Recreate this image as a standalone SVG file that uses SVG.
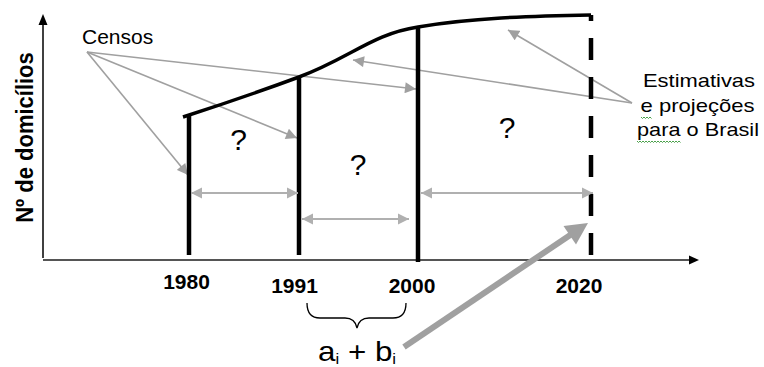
<svg xmlns="http://www.w3.org/2000/svg" width="764" height="367" viewBox="0 0 764 367">
<style>
text{font-family:"Liberation Sans",Arial,sans-serif;fill:#000}
.yr{font-size:21px;font-weight:bold;text-anchor:middle}
.q{font-size:30px;text-anchor:middle}
.lbl{font-size:19px;text-anchor:middle}
.thin{stroke:#a0a0a0;stroke-width:1.6;fill:none}
.harrow{stroke:#b0b0b0;stroke-width:2.2;fill:none}
.bar{stroke:#000;stroke-width:4.5;fill:none}
.squig{stroke:#4aa04a;stroke-width:1;fill:none}
</style>
<defs>
<marker id="ah" viewBox="0 0 10 10" refX="10" refY="5" markerUnits="userSpaceOnUse" markerWidth="12" markerHeight="11" orient="auto-start-reverse">
<path d="M0,0 L10,5 L0,10 z" fill="#a0a0a0"/>
</marker>
<marker id="ahl" viewBox="0 0 10 10" refX="10" refY="5" markerUnits="userSpaceOnUse" markerWidth="11" markerHeight="12" orient="auto-start-reverse">
<path d="M0,0 L10,5 L0,10 z" fill="#b0b0b0"/>
</marker>
</defs>
<rect width="764" height="367" fill="#fff"/>

<g id="axes">
<line x1="43" y1="258" x2="43" y2="24" stroke="#000" stroke-width="1.5"/>
<path d="M43,14 L47.5,25 L38.5,25 z" fill="#000"/>
<line x1="43" y1="260" x2="690" y2="260" stroke="#555" stroke-width="2"/>
<path d="M699,260 L689,255.5 L689,264.5 z" fill="#000"/>
</g>

<g id="y-label">
<text transform="translate(33,137.5) rotate(-90) scale(1,1.12)" x="0" y="0" style="font-size:22px;font-weight:bold;text-anchor:middle">Nº de domicílios</text>
</g>

<g id="connectors">
<line class="thin" x1="87" y1="52" x2="188" y2="175" marker-end="url(#ah)"/>
<line class="thin" x1="87" y1="52" x2="297" y2="138" marker-end="url(#ah)"/>
<line class="thin" x1="87" y1="52" x2="416" y2="89" marker-end="url(#ah)"/>
<line class="thin" x1="632" y1="103" x2="508" y2="30" marker-end="url(#ah)"/>
<line class="thin" x1="632" y1="103" x2="353" y2="60" marker-end="url(#ah)"/>
</g>

<g id="curve">
<path d="M183,117 Q245,97 299,77 C350,58 372,34 418,27 C470,18 530,16 591,15" fill="none" stroke="#000" stroke-width="3.5"/>
</g>

<g id="year-1980">
<line class="bar" x1="189" y1="116" x2="189" y2="255"/>
<text class="yr" x="186.5" y="289">1980</text>
</g>
<g id="year-1991">
<line class="bar" x1="299" y1="77" x2="299" y2="255"/>
<text class="yr" x="294.5" y="293">1991</text>
</g>
<g id="year-2000">
<line class="bar" x1="418" y1="28" x2="418" y2="262"/>
<text class="yr" x="412" y="293">2000</text>
</g>
<g id="year-2020">
<line class="bar" x1="591" y1="15" x2="591" y2="256" stroke-dasharray="22 17" stroke-dashoffset="16"/>
<text class="yr" x="579" y="293">2020</text>
</g>

<g id="intervals">
<line class="harrow" x1="191" y1="193" x2="298" y2="193" marker-start="url(#ahl)" marker-end="url(#ahl)"/>
<line class="harrow" x1="302" y1="219" x2="409" y2="219" marker-start="url(#ahl)" marker-end="url(#ahl)"/>
<line class="harrow" x1="421" y1="193" x2="593" y2="193" marker-start="url(#ahl)" marker-end="url(#ahl)"/>
</g>

<g id="q1"><text class="q" x="238.5" y="150">?</text></g>
<g id="q2"><text class="q" x="358" y="175">?</text></g>
<g id="q3"><text class="q" x="507" y="138">?</text></g>

<g id="censos">
<text x="82" y="44" style="font-size:21px">Censos</text>
</g>

<g id="estimativas">
<text class="lbl" x="699" y="87" textLength="112" lengthAdjust="spacingAndGlyphs">Estimativas</text>
<text class="lbl" x="697.5" y="112" textLength="114" lengthAdjust="spacingAndGlyphs">e projeções</text>
<text class="lbl" x="698" y="136" textLength="122" lengthAdjust="spacingAndGlyphs">para o Brasil</text>
<path class="squig" d="M641,117 l1.5,1.5 l1.5,-1.5 l1.5,1.5 l1.5,-1.5 l1.5,1.5 l1.5,-1.5 l1.5,1.5"/>
<path class="squig" d="M637,141 l1.5,1.5 l1.5,-1.5 l1.5,1.5 l1.5,-1.5 l1.5,1.5 l1.5,-1.5 l1.5,1.5 l1.5,-1.5 l1.5,1.5 l1.5,-1.5 l1.5,1.5 l1.5,-1.5 l1.5,1.5 l1.5,-1.5 l1.5,1.5 l1.5,-1.5 l1.5,1.5 l1.5,-1.5 l1.5,1.5 l1.5,-1.5 l1.5,1.5 l1.5,-1.5 l1.5,1.5 l1.5,-1.5 l1.5,1.5 l1.5,-1.5 l1.5,1.5 l1.5,-1.5 l1.5,1.5"/>
</g>

<g id="brace">
<path d="M307,303 Q307,318 320,318 L345,318 Q355,318 357,328 Q359,318 369,318 L393,318 Q406,318 406,303" fill="none" stroke="#000" stroke-width="1.3"/>
</g>

<g id="ai-bi">
<text transform="translate(318,361) scale(1.12,1)" x="0" y="0" style="font-size:28px">a<tspan style="font-size:15px" dy="3">i</tspan><tspan dy="-3"> + b</tspan><tspan style="font-size:15px" dy="3">i</tspan></text>
</g>

<g id="big-arrow">
<line x1="404" y1="347" x2="571" y2="234.5" stroke="#a0a0a0" stroke-width="6"/>
<path d="M588,223 L576,244.5 L563.5,226 z" fill="#a0a0a0"/>
</g>
</svg>
